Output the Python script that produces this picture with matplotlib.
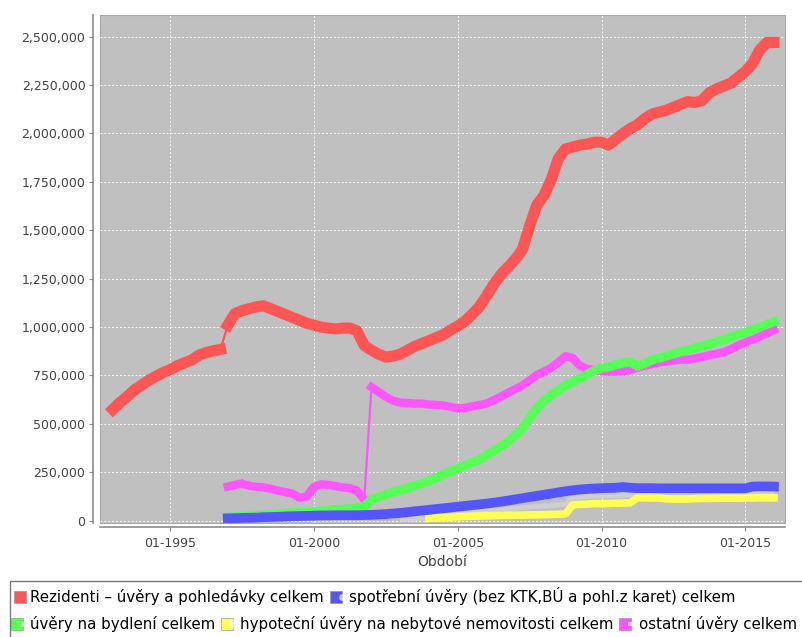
import matplotlib.pyplot as plt
import matplotlib.dates as mdates
from matplotlib.lines import Line2D
from matplotlib.patches import Rectangle
from matplotlib.ticker import FuncFormatter, MultipleLocator
from matplotlib.legend_handler import HandlerTuple
from datetime import datetime
import pandas as pd

# DATA  (hodnoty v tis., čtvrtletně)
# ----
red_start = '1993-01-01'
red_vals = [575, 610, 640, 675,  700, 725, 745, 765,  780, 800, 815, 830,
            855, 868, 878, 885,  1010, 1070, 1085, 1095,  1105, 1110, 1095, 1080,
            1065, 1050, 1035, 1020,  1010, 1000, 995, 990,  995, 995, 980, 905,
            880, 860, 845, 850,  860, 880, 900, 915,  930, 945, 960, 985,
            1005, 1030, 1065, 1105,  1160, 1220, 1270, 1310,  1350, 1400, 1520, 1630,
            1680, 1760, 1870, 1920,  1930, 1940, 1945, 1955,  1955, 1940, 1970, 2000,
            2025, 2045, 2075, 2100,  2110, 2120, 2135, 2150,  2165, 2160, 2170, 2210,
            2230, 2245, 2260, 2290,  2320, 2360, 2430, 2470,  2470]

blue_start = '1997-01-01'
blue_vals = [12, 13, 14, 15,  16, 18, 19, 20,  22, 23, 24, 25,  26, 27, 27, 28,
             28, 28, 28, 29,  30, 32, 34, 37,  40, 44, 48, 52,  56, 60, 64, 68,
             72, 76, 80, 84,  88, 93, 98, 104,  110, 116, 122, 128,  134, 140, 146, 152,
             157, 161, 164, 166,  168, 169, 170, 174,  170, 168, 168, 168,
             167, 167, 167, 167,  167, 167, 167, 167,  167, 167, 167, 167,
             167, 176, 177, 177,  176]

green_start = '1997-01-01'
green_vals = [18, 20, 22, 25,  27, 30, 32, 35,  37, 40, 42, 45,  47, 50, 53, 56,
              59, 62, 66, 72,  110, 122, 135, 147,  158, 168, 180, 192,  205, 220, 238, 255,
              270, 285, 300, 315,  338, 360, 382, 410,  440, 475, 530, 580,
              620, 650, 672, 700,  715, 735, 755, 775,  788, 795, 805, 815,
              822, 798, 812, 830,  840, 850, 862, 872,  882, 892, 902, 912,
              925, 935, 948, 962,  972, 985, 1000, 1015,  1028]

yellow_start = '2004-01-01'
yellow_vals = [12, 14, 16, 18,  20, 22, 23, 24,  25, 26, 27, 28,  28, 29, 30, 30,
               31, 32, 33, 35,  82, 84, 86, 88,  88, 89, 90, 91,  92, 118, 118, 117,
               117, 113, 112, 112,  112, 114, 115, 115,  116, 116, 116, 116,
               117, 117, 118, 118,  118]

magenta_start = '1997-01-01'
magenta_vals = [176, 185, 192, 180,  175, 172, 165, 155,  148, 140, 118, 125,
                175, 188, 185, 178,  172, 168, 155, 110,  690, 665, 640, 620,
                610, 608, 605, 605,  600, 598, 595, 588,  580, 582, 590, 598,
                605, 622, 640, 660,  680, 698, 725, 752,  770, 790, 818, 850,
                840, 800, 785, 778,  772, 770, 770, 772,  778, 790, 800, 808,
                818, 822, 828, 832,  832, 838, 845, 855,  862, 870, 885, 905,
                920, 935, 950, 968,  985]

# světle šedý pás nad žlutou řadou
gray_start = '2003-01-01'
gray_vals = [8, 9, 10, 12,  20, 26, 32, 36,  40, 43, 46, 49,  52, 55, 58, 61,
             64, 67, 70, 73,  76, 79, 82, 85,  120, 122, 124, 126,  127, 128, 129, 130,
             132, 145, 145, 144,  143, 143, 143, 143,  143, 143, 143, 143,
             143, 143, 143, 143,  146, 146, 146, 146,  146]

labels = ['Rezidenti – úvěry a pohledávky celkem',
          'spotřební úvěry (bez KTK,BÚ a pohl.z karet) celkem',
          'úvěry na bydlení celkem',
          'hypoteční úvěry na nebytové nemovitosti celkem',
          'ostatní úvěry celkem']

colors = ['#ff5555', '#5555ff', '#55ff55', '#ffff55', '#ff55ff']
rect_marker = [(-1, -0.5), (1, -0.5), (1, 0.5), (-1, 0.5), (-1, -0.5)]


def quarters(start, vals):
    return pd.date_range(start, periods=len(vals), freq='QS')


fig = plt.figure(figsize=(8.03, 6.37), dpi=100)
ax = fig.add_axes([100 / 803, 1 - 523 / 637, 685 / 803, 508 / 637])
ax.set_facecolor('#c0c0c0')
ax.patch.set_edgecolor('#a8a8a8')
ax.patch.set_linewidth(0.8)

# (start, hodnoty, barva, tloušťka, zorder, skoky kreslené tenkou čarou)
series = [
    (red_start, red_vals, colors[0], 8.0, 10, ['1997-01-01']),
    (blue_start, blue_vals, colors[1], 7.0, 9, []),
    (green_start, green_vals, colors[2], 6.5, 8, []),
    (yellow_start, yellow_vals, colors[3], 5.5, 7, []),
    (magenta_start, magenta_vals, colors[4], 6.0, 6, ['2002-01-01']),
]

ax.plot(quarters(gray_start, gray_vals), [v * 1000 for v in gray_vals],
        color='#cfcfcf', lw=3.5, solid_capstyle='butt', zorder=2)

for start, vals, c, lw, z, breaks in series:
    x = quarters(start, vals)
    y = pd.Series([v * 1000 for v in vals], index=x)
    # tenká spojnice přes celou řadu
    ax.plot(x, y.values, color=c, lw=1.6, zorder=z)
    # silný pás po úsecích (mezi skoky)
    cuts = [x[0]] + [pd.Timestamp(b) for b in breaks] + [x[-1] + pd.Timedelta(days=1)]
    for a, b in zip(cuts[:-1], cuts[1:]):
        part = y[(y.index >= a) & (y.index < b)]
        ax.plot(part.index, part.values, color=c, lw=lw, zorder=z,
                solid_capstyle='projecting', solid_joinstyle='round')

# osy
ax.set_xlim(datetime(1992, 7, 23), datetime(2016, 5, 20))
ax.set_ylim(-12000, 2612000)
ax.xaxis.set_major_locator(mdates.YearLocator(5))
ax.xaxis.set_major_formatter(mdates.DateFormatter('%m-%Y'))
ax.yaxis.set_major_locator(MultipleLocator(250000))
ax.yaxis.set_major_formatter(FuncFormatter(lambda v, p: f'{v:,.0f}'))

ax.grid(True, color='white', ls=(0, (2, 2)), lw=0.7, alpha=0.9)
ax.set_axisbelow(True)

for s in ['top', 'right']:
    ax.spines[s].set_visible(False)
ax.spines['left'].set_position(('outward', 5))
ax.spines['bottom'].set_position(('outward', 3))
for s in ['left', 'bottom']:
    ax.spines[s].set_color('#8c8c8c')
    ax.spines[s].set_linewidth(1.2)

ax.tick_params(axis='both', colors='#8c8c8c', labelcolor='#444444', labelsize=9,
               length=3, width=0.8, pad=2.5)
ax.tick_params(axis='x', pad=4)
ax.set_xlabel('Období', fontsize=10, color='#444444', labelpad=4)

# legenda (dva řádky v rámečku)
def handle(i, inner):
    sq = Line2D([], [], ls='none', marker='s', ms=9, color=colors[i], mec='#999999', mew=0.5)
    if inner is None:
        return sq
    ins = Line2D([], [], ls='none', marker=inner, ms=5, color='#ffffffaa', mew=0)
    return (sq, ins)


h = [handle(0, None), handle(1, 'o'), handle(2, '^'), handle(3, 'D'), handle(4, rect_marker)]
hm = {tuple: HandlerTuple(ndivide=None, pad=0)}

leg_kw = dict(loc='upper left', frameon=False, fontsize=10.8, handlelength=0.8,
              handletextpad=0.3, columnspacing=0.55, borderpad=0, borderaxespad=0,
              handler_map=hm)
leg1 = fig.legend(h[:2], labels[:2], bbox_to_anchor=(14 / 803, 1 - 587 / 637), ncol=2, **leg_kw)
leg2 = fig.legend(h[2:], labels[2:], bbox_to_anchor=(14 / 803, 1 - 616 / 637), ncol=3, **leg_kw)

fig.add_artist(Rectangle((10 / 803, -0.02), 1.0, 0.02 + 1 - 581 / 637,
                         transform=fig.transFigure, fill=False, ec='#7a7a7a', lw=1))

plt.savefig('out.png', dpi=100)
